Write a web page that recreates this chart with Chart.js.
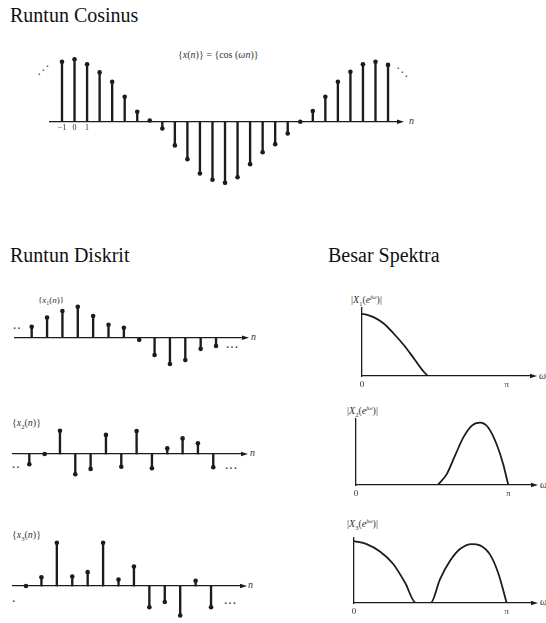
<!DOCTYPE html>
<html>
<head>
<meta charset="utf-8">
<title>Runtun Cosinus dan Besar Spektra</title>
<script src="https://cdn.jsdelivr.net/npm/chart.js@4.4.1/dist/chart.umd.min.js"></script>
<style>
  body { margin: 0; background: #fff; }
  #halaman { position: relative; width: 546px; height: 623px; overflow: hidden;
             font-family: "Liberation Serif", "DejaVu Serif", serif; color: #1e1e1e; }
  #halaman canvas { position: absolute; }
  .t { position: absolute; line-height: 1; white-space: nowrap; transform: translateY(-50%); }
  .judul { font-size: 20px; color: #111; }
  .lbl { font-size: 10px; color: #333; }
  .lbl i { font-style: italic; }
  .lbl sub, .lbl sup { font-size: 65%; line-height: 0; }
  .sb { font-size: 10px; font-style: italic; color: #333; }
  .td { font-size: 10px; color: #333; font-weight: bold; letter-spacing: 1px; }
  .dg { font-family: "DejaVu Sans", sans-serif; font-size: 12px; color: #444; }
</style>
</head>
<body>
<div id="halaman">
  <div class="t judul" style="left:10px;top:15px">Runtun Cosinus</div>
  <div class="t judul" style="left:10px;top:255px">Runtun Diskrit</div>
  <div class="t judul" style="left:328px;top:255px">Besar Spektra</div>

  <!-- label runtun -->
  <div class="t lbl" style="left:178px;top:55px">{<i>x</i>(<i>n</i>)} = {cos (<i>ωn</i>)}</div>
  <div class="t lbl" style="left:38px;top:300px;font-size:9px">{<i>x</i><sub>1</sub>(<i>n</i>)}</div>
  <div class="t lbl" style="left:12px;top:423px">{<i>x</i><sub>2</sub>(<i>n</i>)}</div>
  <div class="t lbl" style="left:12px;top:535px">{<i>x</i><sub>3</sub>(<i>n</i>)}</div>

  <!-- label spektrum -->
  <div class="t lbl" style="left:351px;top:300px">|<i>X</i><sub>1</sub>(<i>e</i><sup><i>jω</i></sup>)|</div>
  <div class="t lbl" style="left:347px;top:411px">|<i>X</i><sub>2</sub>(<i>e</i><sup><i>jω</i></sup>)|</div>
  <div class="t lbl" style="left:347px;top:524px">|<i>X</i><sub>3</sub>(<i>e</i><sup><i>jω</i></sup>)|</div>

  <!-- nama sumbu -->
  <div class="t sb" style="left:409px;top:121px">n</div>
  <div class="t sb" style="left:251px;top:337px">n</div>
  <div class="t sb" style="left:250px;top:453px">n</div>
  <div class="t sb" style="left:248px;top:585px">n</div>
  <div class="t sb" style="left:539px;top:376px">ω</div>
  <div class="t sb" style="left:540px;top:485px">ω</div>
  <div class="t sb" style="left:540px;top:602px">ω</div>

  <!-- titik-titik lanjutan -->
  <div class="t dg" style="left:37px;top:70px">⋰</div>
  <div class="t dg" style="left:396px;top:72px">⋱</div>
  <div class="t td" style="left:13px;top:329px">··</div>
  <div class="t td" style="left:226px;top:348px">···</div>
  <div class="t td" style="left:12px;top:468px">··</div>
  <div class="t td" style="left:225px;top:469px">···</div>
  <div class="t td" style="left:12px;top:602px">·</div>
  <div class="t td" style="left:224px;top:604px">···</div>
</div>

<script>
// nilai runtun cosinus, mulai dari n = -1
const nAwalCos = -1;
const nilaiCos = [0.96, 1.0, 0.92, 0.79, 0.64, 0.40, 0.16, 0.02, -0.11, -0.38, -0.60, -0.83, -0.93, -0.98,
                  -0.89, -0.68, -0.49, -0.36, -0.19, 0.0, 0.17, 0.40, 0.64, 0.80, 0.92, 0.96, 0.91];
const labelCos = ['−1', '0', '1'];

// runtun diskrit x1, x2, x3
const nilaiX1 = [0.35, 0.65, 0.86, 1.0, 0.70, 0.42, 0.32, -0.07, -0.56, -0.85, -0.72, -0.36, -0.27];
const nilaiX2 = [-0.44, 0, 1.0, -0.87, -0.64, 0.82, -0.55, 0.99, -0.61, 0.24, 0.67, 0.46, -0.57];
const nilaiX3 = [0, 0.2, 1.0, 0.22, 0.32, 1.0, 0.15, 0.45, -0.49, -0.37, -0.68, 0.12, -0.49];

// besar spektra, frekuensi dalam satuan pi
const wX1 = [0, 0.03, 0.08, 0.15, 0.22, 0.29, 0.36, 0.425, 0.455];
const magX1 = [0.97, 0.96, 0.92, 0.82, 0.66, 0.48, 0.27, 0.07, 0];
const wX2 = [0.536, 0.595, 0.65, 0.704, 0.759, 0.814, 0.869, 0.924, 0.967, 1.0];
const magX2 = [0, 0.17, 0.47, 0.76, 0.95, 1.0, 0.92, 0.65, 0.33, 0];
const wX3 = [0, 0.083, 0.17, 0.257, 0.334, 0.406, 0.502, 0.563, 0.629, 0.694, 0.771, 0.825, 0.891, 0.945, 1.0];
const magX3 = [1.0, 0.95, 0.83, 0.63, 0.33, 0, 0, 0.38, 0.68, 0.87, 0.95, 0.93, 0.78, 0.48, 0];
const labelW = ['0', 'π'];

const WARNA = '#1c1c1c';
const hurufTick = { family: 'Liberation Serif', size: 9 };

// ujung panah di kanan sumbu mendatar
const panah = {
  id: 'panah',
  afterDraw(chart) {
    const c = chart.ctx;
    const y0 = chart.scales.y.getPixelForValue(0);
    const r = chart.chartArea.right;
    c.save();
    c.fillStyle = WARNA;
    c.beginPath();
    c.moveTo(r + 4, y0);
    c.lineTo(r - 3, y0 - 2.2);
    c.lineTo(r - 3, y0 + 2.2);
    c.closePath();
    c.fill();
    c.restore();
  }
};

function nolPadding(s) {
  s.paddingLeft = s.paddingRight = s.paddingTop = s.paddingBottom = 0;
}

function buatKanvas(id, kiri, atas, lebar, tinggi) {
  const k = document.createElement('canvas');
  k.id = id;
  k.width = Math.round(lebar);
  k.height = Math.round(tinggi);
  k.style.left = kiri + 'px';
  k.style.top = atas + 'px';
  document.getElementById('halaman').appendChild(k);
  return k;
}

// g: batas area grafik di halaman (kiri, kanan, atas, bawah), posisi batang pertama x0, jarak dx,
//    posisi garis nol (sumbu) dan piksel per satuan (skala)
function grafikBatang(id, nilai, n0, g, tick) {
  const pad = { left: 12, right: 12, top: 6, bottom: 14 };
  const kanvas = buatKanvas(id, g.kiri - pad.left, g.atas - pad.top,
    g.kanan - g.kiri + pad.left + pad.right, g.bawah - g.atas + pad.top + pad.bottom);
  const titik = nilai.map((v, i) => ({ x: n0 + i, y: v }));
  return new Chart(kanvas, {
    type: 'bar',
    data: {
      datasets: [
        { type: 'bar', data: titik, backgroundColor: WARNA, barThickness: 1.7, borderWidth: 0 },
        { type: 'line', data: titik, showLine: false, pointRadius: 2.3,
          pointBackgroundColor: WARNA, pointBorderWidth: 0 }
      ]
    },
    options: {
      responsive: false, animation: false, events: [],
      layout: { padding: pad },
      plugins: { legend: { display: false }, tooltip: { enabled: false } },
      scales: {
        x: {
          type: 'linear', position: { y: 0 }, offset: false,
          min: n0 + (g.kiri - g.x0) / g.dx, max: n0 + (g.kanan - g.x0) / g.dx,
          grid: { display: false, drawTicks: false },
          border: { display: true, color: WARNA, width: 1.3 },
          afterBuildTicks: s => { s.ticks = (tick || []).map((_, i) => ({ value: n0 + i })); },
          ticks: { display: !!tick, callback: (v, i) => tick[i], font: { family: 'Liberation Serif', size: 8 },
                   color: '#333', padding: 1, maxRotation: 0, autoSkip: false },
          afterFit: nolPadding
        },
        y: { display: false, min: -(g.bawah - g.sumbu) / g.skala, max: (g.sumbu - g.atas) / g.skala }
      }
    },
    plugins: [panah]
  });
}

// g: posisi w=0 (nolX), w=pi (piX), ujung sumbu, garis nol, puncak sumbu tegak dan skala
function grafikSpektrum(id, w, mag, g) {
  const pad = { left: 8, right: 8, top: 4, bottom: 16 };
  const kanvas = buatKanvas(id, g.nolX - pad.left, g.atas - pad.top,
    g.ujung - g.nolX + pad.left + pad.right, g.sumbu - g.atas + pad.top + pad.bottom);
  return new Chart(kanvas, {
    type: 'line',
    data: {
      datasets: [{
        data: w.map((x, i) => ({ x: x, y: mag[i] })),
        borderColor: WARNA, borderWidth: 1.8, pointRadius: 0,
        cubicInterpolationMode: 'monotone', fill: false
      }]
    },
    options: {
      responsive: false, animation: false, events: [],
      layout: { padding: pad },
      plugins: { legend: { display: false }, tooltip: { enabled: false } },
      scales: {
        x: {
          type: 'linear', position: { y: 0 },
          min: 0, max: (g.ujung - g.nolX) / (g.piX - g.nolX),
          grid: { display: false, drawTicks: false },
          border: { display: true, color: WARNA, width: 1.3 },
          afterBuildTicks: s => { s.ticks = labelW.map((_, i) => ({ value: i })); },
          ticks: { callback: (v, i) => labelW[i], font: hurufTick, color: '#333',
                   padding: 3, maxRotation: 0, autoSkip: false },
          afterFit: nolPadding
        },
        y: {
          type: 'linear', position: { x: 0 },
          min: 0, max: (g.sumbu - g.atas) / g.skala,
          grid: { display: false, drawTicks: false },
          border: { display: true, color: WARNA, width: 1.3 },
          ticks: { display: false },
          afterFit: nolPadding
        }
      }
    },
    plugins: [panah]
  });
}

grafikBatang('cosinus', nilaiCos, nAwalCos,
  { kiri: 50, kanan: 400, atas: 55, bawah: 190, x0: 62, dx: 12.54, sumbu: 121.7, skala: 62.4 }, labelCos);
grafikBatang('x1', nilaiX1, 0,
  { kiri: 15, kanan: 245, atas: 300, bawah: 372, x0: 31.7, dx: 15.36, sumbu: 337.7, skala: 31 });
grafikBatang('x2', nilaiX2, 0,
  { kiri: 13, kanan: 244, atas: 420, bawah: 480, x0: 29.3, dx: 15.33, sumbu: 454, skala: 23.3 });
grafikBatang('x3', nilaiX3, 0,
  { kiri: 13, kanan: 243, atas: 535, bawah: 620, x0: 26, dx: 15.42, sumbu: 586, skala: 43.3 });

grafikSpektrum('spek1', wX1, magX1, { nolX: 361.7, piX: 506.7, ujung: 533, sumbu: 376, atas: 308, skala: 64 });
grafikSpektrum('spek2', wX2, magX2, { nolX: 356, piX: 508.3, ujung: 534, sumbu: 485, atas: 419, skala: 62.3 });
grafikSpektrum('spek3', wX3, magX3, { nolX: 354, piX: 506.7, ujung: 534, sumbu: 603, atas: 538, skala: 62 });
</script>
</body>
</html>
